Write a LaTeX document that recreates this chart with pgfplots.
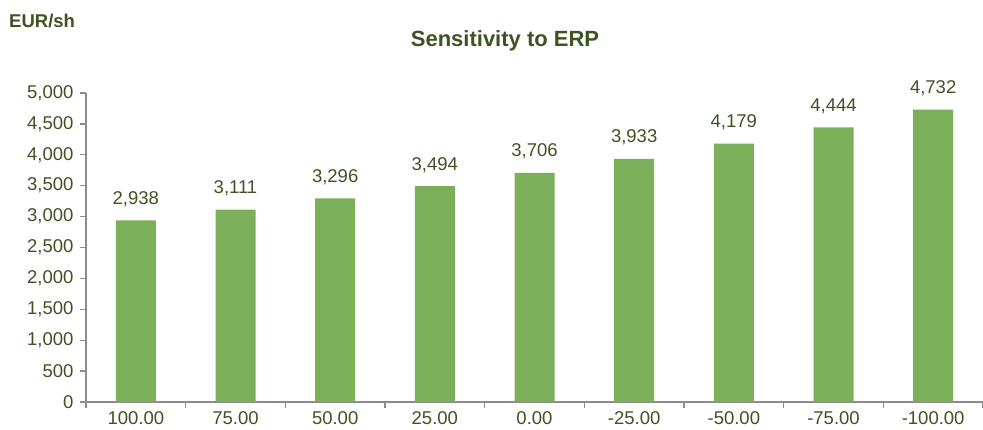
\documentclass[border=0pt]{standalone}
\usepackage{fontspec}
\setmainfont{Liberation Sans}
\usepackage{pgfplots}
\pgfplotsset{compat=1.18}
\definecolor{barGreen}{HTML}{7CAF5A}
\definecolor{darkOlive}{HTML}{3F5224}
\definecolor{axisGray}{HTML}{8C8C8C}
\begin{document}
\begin{tikzpicture}[x=1pt,y=1pt]
\useasboundingbox (0,0) rectangle (983,430);
% unit label and title
\node[anchor=base west, inner sep=0, text=darkOlive,
      font=\fontsize{18.5}{20}\selectfont\bfseries] at (9,402) {EUR/sh};
\node[anchor=base, inner sep=0, text=darkOlive,
      font=\fontsize{22}{24}\selectfont\bfseries] at (505,383) {Sensitivity to ERP};
\begin{axis}[
  at={(86pt,28pt)}, anchor=south west,
  scale only axis, width=897pt, height=309pt,
  xmin=-0.5, xmax=8.5, ymin=0, ymax=5000,
  ybar, bar width=40pt,
  axis x line*=bottom, axis y line*=left,
  axis line style={axisGray, line width=1.3pt},
  every tick/.style={axisGray, line width=1.3pt},
  tick align=outside,
  major tick length=6pt, minor tick length=6pt,
  xtick={0,...,8},
  xticklabels={100.00,75.00,50.00,25.00,0.00,-25.00,-50.00,-75.00,-100.00},
  major x tick style={draw=none},
  minor xtick={-0.5,0.5,...,8.5},
  ytick={0,500,...,5000},
  ticklabel style={text=darkOlive, font=\fontsize{18.5}{20}\selectfont},
  xticklabel style={anchor=base, inner sep=0pt, yshift=-17pt},
  yticklabel style={xshift=-3pt},
  /pgf/number format/.cd, 1000 sep={,}, fixed, assume math mode=true,
  /pgfplots/.cd,
  nodes near coords,
  every node near coord/.append style={anchor=base, inner sep=0pt, yshift=16pt,
     text=darkOlive, font=\fontsize{18.5}{20}\selectfont,
     /pgf/number format/1000 sep={,}, /pgf/number format/assume math mode=true},
  clip=false,
]
\addplot[fill=barGreen, draw=none] coordinates {
  (0,2938) (1,3111) (2,3296) (3,3494) (4,3706)
  (5,3933) (6,4179) (7,4444) (8,4732)
};
\end{axis}
\end{tikzpicture}
\end{document}
